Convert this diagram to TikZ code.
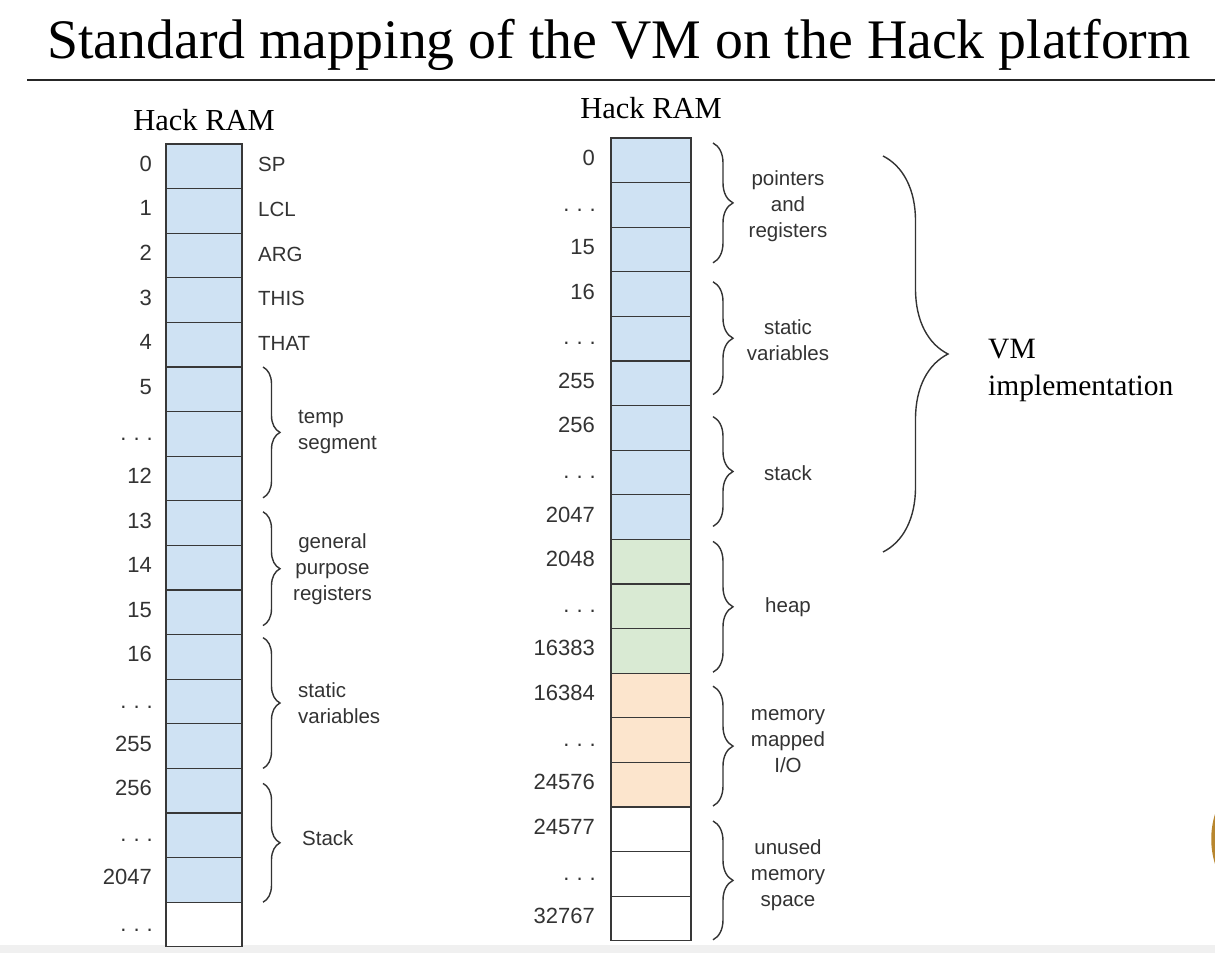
\documentclass[tikz,border=0pt]{standalone}
\usepackage{fontspec}
\setmainfont{Liberation Serif}
\newfontfamily\arialfont{Liberation Sans}
\usetikzlibrary{decorations.pathreplacing,calc}
\definecolor{cblue}{HTML}{CFE2F3}
\definecolor{cgreen}{HTML}{D9EAD3}
\definecolor{corange}{HTML}{FCE5CD}
\definecolor{ink}{HTML}{333333}
\definecolor{edgec}{HTML}{383838}
\definecolor{blob}{HTML}{B8862E}
\newcommand{\mydots}{.\kern7pt.\kern7pt.}
\begin{document}
\begin{tikzpicture}[x=1pt,y=-1pt,
  cellL/.style={draw=edgec, line width=1.2pt, minimum width=76pt, minimum height=44.6pt, inner sep=0pt, outer sep=0pt},
  cellR/.style={draw=edgec, line width=1.2pt, minimum width=80pt, minimum height=44.6pt, inner sep=0pt, outer sep=0pt},
  num/.style={anchor=east, inner sep=0pt, text=ink, font=\arialfont\fontsize{22}{26}\selectfont},
  lab/.style={inner sep=0pt, text=ink, font=\arialfont\fontsize{20.5}{26}\selectfont},
  brL/.style={decorate, decoration={brace, amplitude=17pt}, draw=ink, line width=1.4pt},
  brR/.style={decorate, decoration={brace, amplitude=20pt}, draw=ink, line width=1.4pt},
  brBig/.style={decorate, decoration={brace, amplitude=65pt}, draw=ink, line width=1.4pt},
  serifbig/.style={inner sep=0pt, text=black, font=\fontsize{29.5}{37}\selectfont}
]
\useasboundingbox (0,0) rectangle (1215,953);
\fill[white] (0,0) rectangle (1215,953);
\fill[black!6] (0,945) rectangle (1215,953);
\fill[blob] (1215,814) .. controls (1210,830) and (1210,848) .. (1215,864) -- cycle;

% title
\node[anchor=base, inner sep=0pt, font=\fontsize{55.8}{60}\selectfont] (title) at (619,58) {Standard mapping of the VM on the Hack platform};
\coordinate (ruleA) at (27,80);
\coordinate (ruleB) at (1215,80);
\draw[line width=2.2pt, black!85] (ruleA) -- (ruleB);

% left RAM
\node[inner sep=0pt, font=\fontsize{30.5}{34}\selectfont] (hackL) at (204,120) {Hack RAM};
\foreach \i in {0,...,16} \node[cellL, fill=cblue] (L\i) at (204,{166.3+44.6*\i}) {};
\node[cellL, fill=white] (L17) at (204,{166.3+44.6*17}) {};

\foreach \i/\t in {0/0,1/1,2/2,3/3,4/4,5/5,7/12,8/13,9/14,10/15,11/16,13/255,14/256,16/2047}
  \node[num] (nL\i) at ($(L\i.west)+(-14,-2.5)$) {\t};
\foreach \i in {6,12,15,17}
  \node[num] (nL\i) at ($(L\i.west)+(-13,5.5)$) {\mydots};

\foreach \i/\t in {0/SP,1/LCL,2/ARG,3/THIS,4/THAT}
  \node[lab, anchor=west] (rL\i) at ($(L\i.east)+(16,-1.5)$) {\t};

\coordinate (bLa1) at ($(L5.north east)+(21,0)$);
\coordinate (bLa2) at ($(L7.south east)+(21,-3)$);
\draw[brL] (bLa1) -- (bLa2);
\node[lab, anchor=west, align=left] (tempL) at ($(bLa1)!0.5!(bLa2)+(35,0)$) {temp\\segment};

\coordinate (bLb1) at ($(L8.north east)+(21,11)$);
\coordinate (bLb2) at ($(L10.south east)+(21,-9)$);
\draw[brL] (bLb1) -- (bLb2);
\node[lab, anchor=west, align=center] (gpL) at ($(bLb1)!0.5!(bLb2)+(30,0)$) {general\\purpose\\registers};

\coordinate (bLc1) at ($(L11.north east)+(21,3)$);
\coordinate (bLc2) at ($(L13.south east)+(21,0)$);
\draw[brL] (bLc1) -- (bLc2);
\node[lab, anchor=west, align=left] (stL) at ($(bLc1)!0.5!(bLc2)+(35,0)$) {static\\variables};

\coordinate (bLd1) at ($(L14.north east)+(21,15)$);
\coordinate (bLd2) at ($(L16.south east)+(21,0)$);
\draw[brL] (bLd1) -- (bLd2);
\node[lab, anchor=west] (stkL) at ($(bLd1)!0.5!(bLd2)+(39,-5)$) {Stack};

% right RAM
\node[inner sep=0pt, font=\fontsize{30.5}{34}\selectfont] (hackR) at (651,108) {Hack RAM};
\foreach \i in {0,...,8} \node[cellR, fill=cblue] (R\i) at (651,{160.3+44.6*\i}) {};
\foreach \i in {9,10,11} \node[cellR, fill=cgreen] (R\i) at (651,{160.3+44.6*\i}) {};
\foreach \i in {12,13,14} \node[cellR, fill=corange] (R\i) at (651,{160.3+44.6*\i}) {};
\foreach \i in {15,16,17} \node[cellR, fill=white] (R\i) at (651,{160.3+44.6*\i}) {};

\foreach \i/\t in {0/0,2/15,3/16,5/255,6/256,8/2047,9/2048,11/16383,12/16384,14/24576,15/24577,17/32767}
  \node[num] (nR\i) at ($(R\i.west)+(-16,-2.5)$) {\t};
\foreach \i in {1,4,7,10,13,16}
  \node[num] (nR\i) at ($(R\i.west)+(-15,5)$) {\mydots};

\foreach \a/\b/\ta/\tb/\k/\t in {0/2/5/9/p/{pointers\\and\\registers},3/5/10/11/s/{static\\variables},6/8/11/13/k/stack,9/11/2/1/h/heap,12/14/13/1/m/{memory\\mapped\\I/O},15/17/14/1/u/{unused\\memory\\space}}{
  \coordinate (bR\k1) at ($(R\a.north east)+(22,\ta)$);
  \coordinate (bR\k2) at ($(R\b.south east)+(22,-\tb)$);
  \draw[brR] (bR\k1) -- (bR\k2);
  \node[lab, align=center] (lR\k) at ($(R\a.north east)!0.5!(R\b.south east)+(97,1)$) {\t};
}

% big brace
\coordinate (bigA) at (883,156);
\coordinate (bigB) at (883,552);
\draw[brBig] (bigA) -- (bigB);
\node[serifbig, anchor=west, align=left] (vm) at (988,370) {VM\\implementation};
\end{tikzpicture}
\end{document}
